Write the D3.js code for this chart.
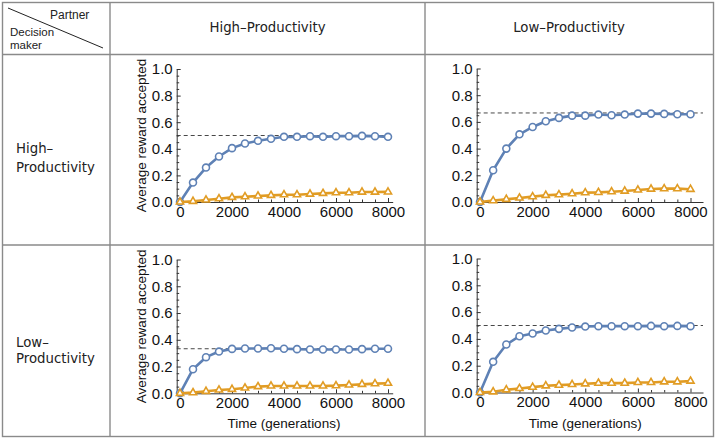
<!DOCTYPE html>
<html><head><meta charset="utf-8">
<script src="https://cdn.jsdelivr.net/npm/d3@7"></script>
<style>body{margin:0;background:#fff}svg{display:block}</style>
</head><body>
<svg id="c" width="716" height="440"></svg>
<script>
const times = [0,500,1000,1500,2000,2500,3000,3500,4000,4500,5000,5500,6000,6500,7000,7500,8000];
const xTicks = [0,2000,4000,6000,8000];
const yTicks = [0,0.2,0.4,0.6,0.8,1.0];
const colHeaders = ["High\u2013Productivity","Low\u2013Productivity"];
const rowHeaders = [["High\u2013","Productivity"],["Low\u2013","Productivity"]];
// High decision maker / High partner
const hhBlue   = [0,0.146,0.259,0.342,0.405,0.44,0.46,0.475,0.49,0.49,0.495,0.49,0.495,0.495,0.497,0.495,0.49];
const hhOrange = [0,0.005,0.015,0.025,0.035,0.04,0.045,0.05,0.055,0.055,0.06,0.065,0.07,0.07,0.075,0.075,0.076];
// High decision maker / Low partner
const hlBlue   = [0,0.238,0.40,0.507,0.562,0.605,0.63,0.647,0.647,0.655,0.65,0.655,0.662,0.662,0.66,0.657,0.657];
const hlOrange = [0,0.01,0.02,0.03,0.04,0.05,0.055,0.062,0.07,0.072,0.077,0.082,0.09,0.097,0.1,0.1,0.095];
// Low decision maker / High partner
const lhBlue   = [0,0.18,0.27,0.312,0.332,0.335,0.335,0.337,0.333,0.33,0.327,0.327,0.327,0.327,0.33,0.333,0.333];
const lhOrange = [0,0.005,0.015,0.025,0.03,0.04,0.05,0.055,0.055,0.055,0.055,0.055,0.057,0.062,0.067,0.072,0.075];
// Low decision maker / Low partner
const llBlue   = [0,0.229,0.358,0.42,0.44,0.463,0.475,0.485,0.492,0.495,0.495,0.495,0.495,0.497,0.495,0.497,0.495];
const llOrange = [0,0.005,0.02,0.03,0.04,0.05,0.055,0.06,0.065,0.07,0.07,0.07,0.075,0.075,0.08,0.08,0.085];
const thresholds = [0.5, 0.667, 0.333, 0.5];

const blue = "#5e81b5", orange = "#e19c24";
const svg = d3.select("#c");
const gridCol = "#8a8a8a";

// table grid
const g0 = svg.append("g").attr("stroke", gridCol).attr("stroke-width", 1.4).attr("fill","none");
g0.append("rect").attr("x",2.5).attr("y",2.5).attr("width",711).attr("height",434);
[110,425].forEach(x=>g0.append("line").attr("x1",x).attr("x2",x).attr("y1",2.5).attr("y2",436.5));
[54.5,245].forEach(y=>g0.append("line").attr("x1",2.5).attr("x2",713.5).attr("y1",y).attr("y2",y));

// corner
svg.append("line").attr("x1",8).attr("y1",8).attr("x2",103).attr("y2",48).attr("stroke","#222").attr("stroke-width",1);
const cf = "'Liberation Sans', Arial, sans-serif";
svg.append("text").attr("x",50).attr("y",19).attr("font-family",cf).attr("font-size",12).attr("fill","#222").text("Partner");
svg.append("text").attr("x",10).attr("y",36).attr("font-family",cf).attr("font-size",11.5).attr("fill","#222").text("Decision");
svg.append("text").attr("x",10).attr("y",49).attr("font-family",cf).attr("font-size",11.5).attr("fill","#222").text("maker");

const hf = "'DejaVu Sans', sans-serif";
[267.5, 569].forEach((cx,i)=>svg.append("text").attr("x",cx).attr("y",32).attr("text-anchor","middle")
  .attr("font-family",hf).attr("font-size",13.3).attr("fill","#222").text(colHeaders[i]));
[[153,172],[347,363]].forEach((ys,i)=>{
  rowHeaders[i].forEach((t,j)=>svg.append("text").attr("x",16).attr("y",ys[j])
    .attr("font-family",hf).attr("font-size",13.3).attr("fill","#222").text(t));
});

const panels = [
  {blue:hhBlue, orange:hhOrange, thr:thresholds[0], x0:180, x8:388, aL:176.7, aR:392.7, y0:202, y1:69, ylab:true, xlab:false},
  {blue:hlBlue, orange:hlOrange, thr:thresholds[1], x0:480, x8:690.5, aL:476.7, aR:703, y0:202, y1:68.5, ylab:false, xlab:false},
  {blue:lhBlue, orange:lhOrange, thr:thresholds[2], x0:180, x8:388, aL:176.7, aR:392.7, y0:393.3, y1:259.5, ylab:true, xlab:true},
  {blue:llBlue, orange:llOrange, thr:thresholds[3], x0:480, x8:690.5, aL:476.7, aR:703, y0:392.5, y1:258.5, ylab:false, xlab:true},
];
const af = "'Liberation Sans', Arial, sans-serif";
const fs = 13.5, tfs = 15;
panels.forEach(p=>{
  const k = (p.x8-p.x0)/8000;
  const x = d3.scaleLinear().domain([(p.aL-p.x0)/k, (p.aR-p.x0)/k]).range([p.aL,p.aR]);
  const y = d3.scaleLinear().domain([0,1]).range([p.y0,p.y1]);
  const g = svg.append("g");
  // dashed threshold
  g.append("line").attr("x1",x.range()[0]).attr("x2",x.range()[1]).attr("y1",y(p.thr)).attr("y2",y(p.thr))
    .attr("stroke","#333").attr("stroke-width",0.9).attr("stroke-dasharray","4,3");
  // axes
  const xa = g.append("g").attr("transform",`translate(0,${p.y0})`)
    .call(d3.axisBottom(x).tickValues(xTicks).tickSizeInner(-4).tickSizeOuter(0).tickPadding(4).tickFormat(d3.format("d")));
  g.append("g").attr("transform",`translate(0,${p.y0})`)
    .call(d3.axisBottom(x).tickValues(d3.range(500,8000,500).filter(v=>v%2000)).tickSizeInner(-2.5).tickSizeOuter(0).tickFormat(""))
    .select(".domain").remove();
  const ya = g.append("g").attr("transform",`translate(${p.aL},0)`)
    .call(d3.axisLeft(y).tickValues(yTicks).tickSizeInner(-4).tickSizeOuter(0).tickPadding(4).tickFormat(d3.format(".1f")));
  g.append("g").attr("transform",`translate(${p.aL},0)`)
    .call(d3.axisLeft(y).tickValues(d3.range(0.05,1,0.05).filter(v=>Math.abs(v*5-Math.round(v*5))>1e-6)).tickSizeInner(-2.5).tickSizeOuter(0).tickFormat(""))
    .select(".domain").remove();
  [xa,ya].forEach(a=>{
    a.selectAll("text").attr("font-family",af).attr("font-size",tfs).attr("fill","#111");
    a.selectAll("line,path").attr("stroke","#333");
  });
  g.selectAll(".tick line").attr("stroke","#333");
  if(p.ylab){
    g.append("text").attr("transform",`translate(${p.aL-35},${(p.y0+p.y1)/2}) rotate(-90)`)
      .attr("text-anchor","middle").attr("dy","0.35em").attr("font-family",af).attr("font-size",fs).attr("fill","#111")
      .text("Average reward accepted");
  }
  if(p.xlab){
    g.append("text").attr("x",(p.x0+p.x8)/2).attr("y",428).attr("text-anchor","middle")
      .attr("font-family",af).attr("font-size",fs).attr("fill","#111").text("Time (generations)");
  }
  const line = d3.line().x((d,i)=>x(times[i])).y(d=>y(d));
  [[p.blue,blue,"c"],[p.orange,orange,"t"]].forEach(([vals,col,shape])=>{
    g.append("path").datum(vals).attr("d",line).attr("fill","none").attr("stroke",col).attr("stroke-width",2.6).attr("stroke-linejoin","round");
    const sym = d3.symbol().type(shape==="c"?d3.symbolCircle:d3.symbolTriangle).size(shape==="c"?38:22);
    g.selectAll(null).data(vals).enter().append("path")
      .attr("transform",(d,i)=>`translate(${x(times[i])},${y(d)})`)
      .attr("d",sym).attr("fill","#fff").attr("stroke",col).attr("stroke-width",1.6);
  });
});
</script>
</body></html>
